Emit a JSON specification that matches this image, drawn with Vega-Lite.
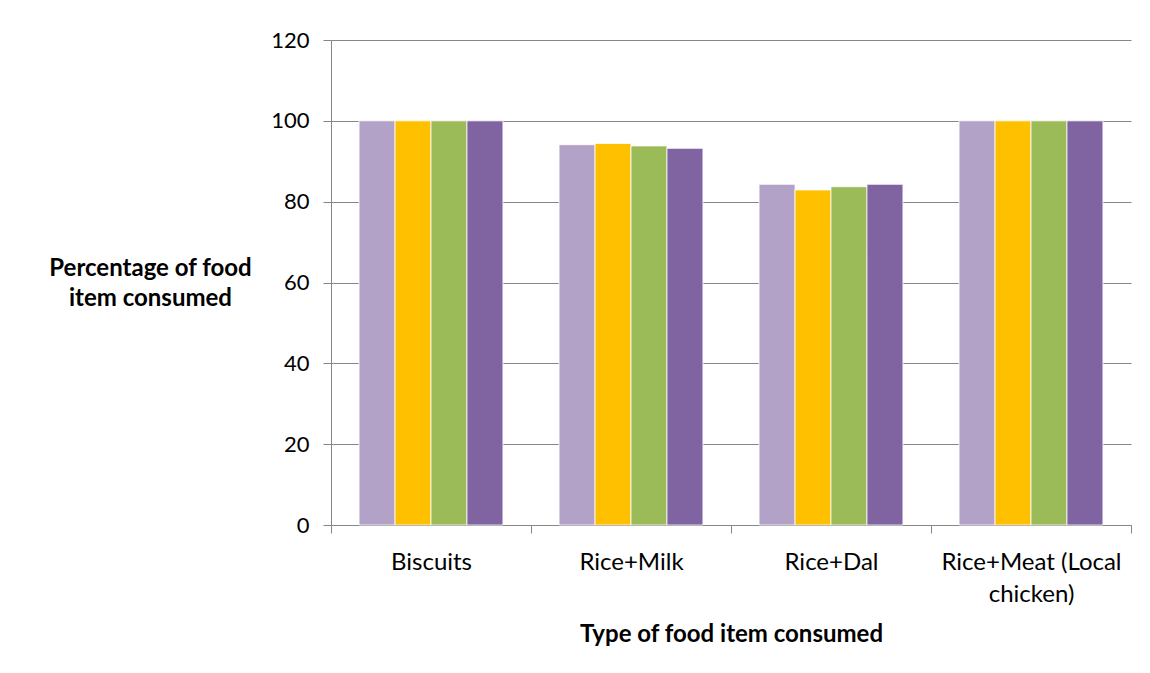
{
  "$schema": "https://vega.github.io/schema/vega-lite/v6.json",
  "width": 800,
  "height": 485,
  "autosize": {"type": "none"},
  "padding": {"left": 331, "top": 40, "right": 19, "bottom": 148},
  "background": "white",
  "config": {"view": {"stroke": null}, "font": "Lato"},
  "data": {
    "values": [
      {"food": "Biscuits", "series": "Series 1", "pct": 100},
      {"food": "Biscuits", "series": "Series 2", "pct": 100},
      {"food": "Biscuits", "series": "Series 3", "pct": 100},
      {"food": "Biscuits", "series": "Series 4", "pct": 100},
      {"food": "Rice+Milk", "series": "Series 1", "pct": 94.1},
      {"food": "Rice+Milk", "series": "Series 2", "pct": 94.4},
      {"food": "Rice+Milk", "series": "Series 3", "pct": 93.8},
      {"food": "Rice+Milk", "series": "Series 4", "pct": 93.2},
      {"food": "Rice+Dal", "series": "Series 1", "pct": 84.3},
      {"food": "Rice+Dal", "series": "Series 2", "pct": 82.9},
      {"food": "Rice+Dal", "series": "Series 3", "pct": 83.7},
      {"food": "Rice+Dal", "series": "Series 4", "pct": 84.3},
      {"food": "Rice+Meat (Local chicken)", "series": "Series 1", "pct": 100},
      {"food": "Rice+Meat (Local chicken)", "series": "Series 2", "pct": 100},
      {"food": "Rice+Meat (Local chicken)", "series": "Series 3", "pct": 100},
      {"food": "Rice+Meat (Local chicken)", "series": "Series 4", "pct": 100}
    ]
  },
  "mark": {"type": "bar", "stroke": "white", "strokeWidth": 0.8},
  "encoding": {
    "x": {
      "field": "food",
      "type": "nominal",
      "sort": ["Biscuits", "Rice+Milk", "Rice+Dal", "Rice+Meat (Local chicken)"],
      "scale": {"paddingInner": 0, "paddingOuter": 0},
      "axis": {
        "title": "Type of food item consumed",
        "titleFontSize": 24,
        "titleFontWeight": "bold",
        "titleColor": "black",
        "titleBaseline": "alphabetic",
        "titleY": 116,
        "labelAngle": 0,
        "labelFontSize": 24,
        "labelColor": "black",
        "labelPadding": 17,
        "labelBaseline": "top",
        "labelLineHeight": 32,
        "labelLimit": 400,
        "labelExpr": "datum.value == 'Rice+Meat (Local chicken)' ? ['Rice+Meat (Local', 'chicken)'] : datum.value",
        "tickBand": "extent",
        "tickSize": 8,
        "tickColor": "#868686",
        "domainColor": "#868686",
        "grid": false
      }
    },
    "xOffset": {
      "field": "series",
      "type": "nominal",
      "scale": {"paddingInner": 0, "paddingOuter": 0.78}
    },
    "y": {
      "field": "pct",
      "type": "quantitative",
      "scale": {"domain": [0, 120]},
      "axis": {
        "values": [0, 20, 40, 60, 80, 100, 120],
        "title": ["Percentage of food", "item consumed"],
        "titleAngle": 0,
        "titleAlign": "center",
        "titleBaseline": "alphabetic",
        "titleX": -181,
        "titleY": 235,
        "titleLineHeight": 30,
        "titleFontSize": 24,
        "titleFontWeight": "bold",
        "titleColor": "black",
        "labelFontSize": 22,
        "labelColor": "black",
        "labelPadding": 14,
        "tickSize": 8,
        "tickColor": "#868686",
        "domainColor": "#868686",
        "gridColor": "#868686",
        "grid": true
      }
    },
    "color": {
      "field": "series",
      "type": "nominal",
      "scale": {
        "domain": ["Series 1", "Series 2", "Series 3", "Series 4"],
        "range": ["#B3A2C7", "#FFC000", "#9BBB59", "#8064A2"]
      },
      "legend": null
    }
  }
}
